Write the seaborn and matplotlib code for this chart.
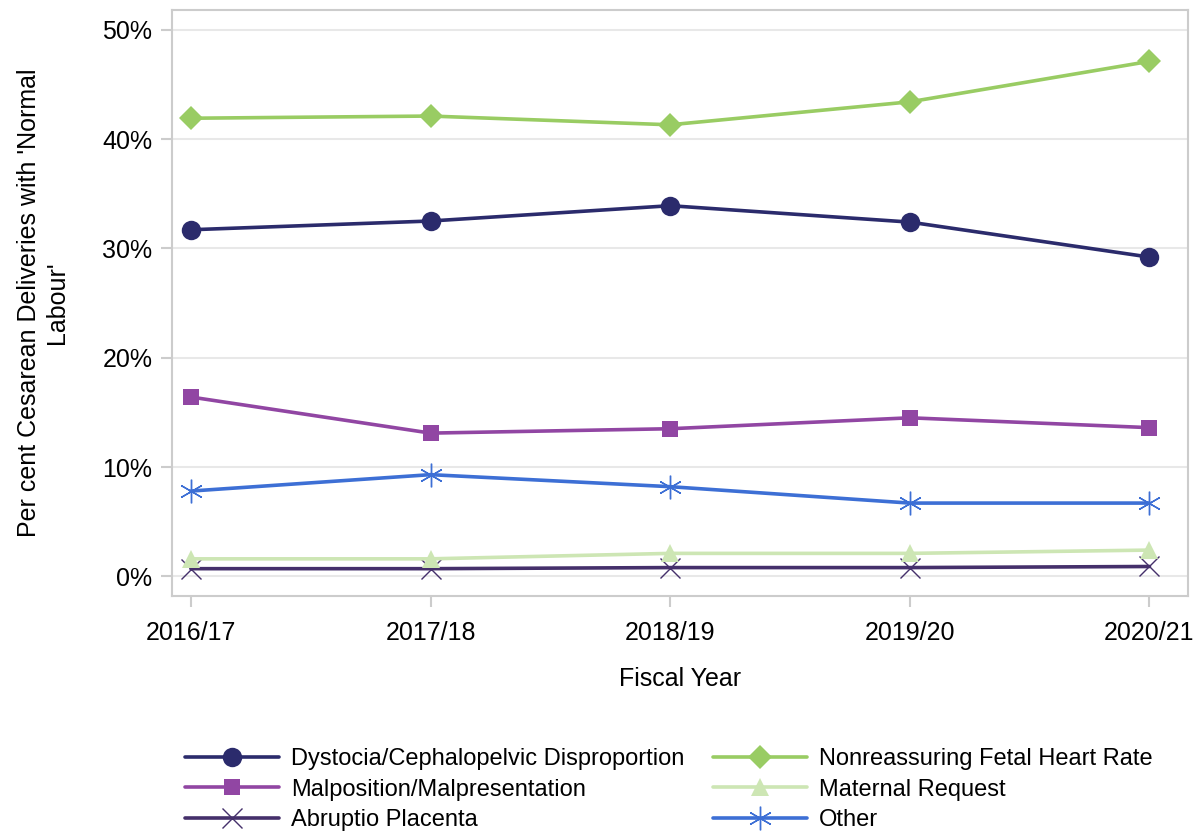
import matplotlib
matplotlib.use('Agg')
import matplotlib.pyplot as plt
import seaborn as sns
import pandas as pd
from matplotlib.ticker import PercentFormatter

# 資料
years = ['2016/17', '2017/18', '2018/19', '2019/20', '2020/21']
dystocia = [31.7, 32.5, 33.9, 32.4, 29.2]
malposition = [16.4, 13.1, 13.5, 14.5, 13.6]
abruptio = [0.7, 0.7, 0.8, 0.8, 0.9]
nonreassuring = [41.9, 42.1, 41.3, 43.4, 47.1]
maternal = [1.6, 1.6, 2.1, 2.1, 2.4]
other = [7.8, 9.3, 8.2, 6.7, 6.7]

series_names = ['Dystocia/Cephalopelvic Disproportion', 'Malposition/Malpresentation',
                'Abruptio Placenta', 'Nonreassuring Fetal Heart Rate',
                'Maternal Request', 'Other']
series_values = [dystocia, malposition, abruptio, nonreassuring, maternal, other]

colors = ['#2B2B6C', '#9146A3', '#45306B', '#99CC63', '#CDE6B4', '#3D6FD5']
markers = ['o', 's', 'x', 'D', '^', (6, 2, 0)]
msizes = [14, 12, 15, 12, 13, 17]

sns.set_theme(style='white')
plt.rcParams['font.family'] = ['Liberation Sans', 'DejaVu Sans']
plt.rcParams['text.color'] = 'black'
plt.rcParams['axes.labelcolor'] = 'black'

fig = plt.figure(figsize=(12.01, 8.33), dpi=100)
ax = fig.add_axes([0.143, 0.2845, 0.846, 0.7035])

for name, vals, c, m, ms in zip(series_names, series_values, colors, markers, msizes):
    df = pd.DataFrame({'year': years, 'value': vals})
    sns.lineplot(data=df, x='year', y='value', ax=ax, color=c, marker=m,
                 markersize=ms, linewidth=2.6, label=name,
                 markeredgecolor=c, markeredgewidth=1.0 if m in ('x', (6, 2, 0)) else 0)

ax.set_xlim(-0.08, 4.16)
ax.set_ylim(-1.8, 51.8)
ax.set_yticks([0, 10, 20, 30, 40, 50])
ax.yaxis.set_major_formatter(PercentFormatter(decimals=0))
ax.grid(axis='y', color='#E8E8E8', linewidth=1.5)
ax.set_axisbelow(True)
for s in ax.spines.values():
    s.set_color('#CCCCCC')
    s.set_linewidth(1.5)
ax.tick_params(axis='both', which='major', labelsize=18, length=8, width=1.5,
               direction='out', left=True, bottom=True, colors='#CCCCCC',
               labelcolor='black')
ax.tick_params(axis='x', pad=10)
ax.tick_params(axis='y', pad=6)

ax.set_xlabel('Fiscal Year', fontsize=18, labelpad=16)
ax.set_ylabel("Per cent Cesarean Deliveries with 'Normal\nLabour'", fontsize=18, labelpad=24)

ax.legend(loc='upper left', bbox_to_anchor=(0.146, 0.113), bbox_transform=fig.transFigure,
          ncol=2, frameon=False, fontsize=17, handlelength=4.0, columnspacing=1.2,
          labelspacing=0.35, handletextpad=0.5, borderaxespad=0)

plt.savefig('out.png', dpi=100)
